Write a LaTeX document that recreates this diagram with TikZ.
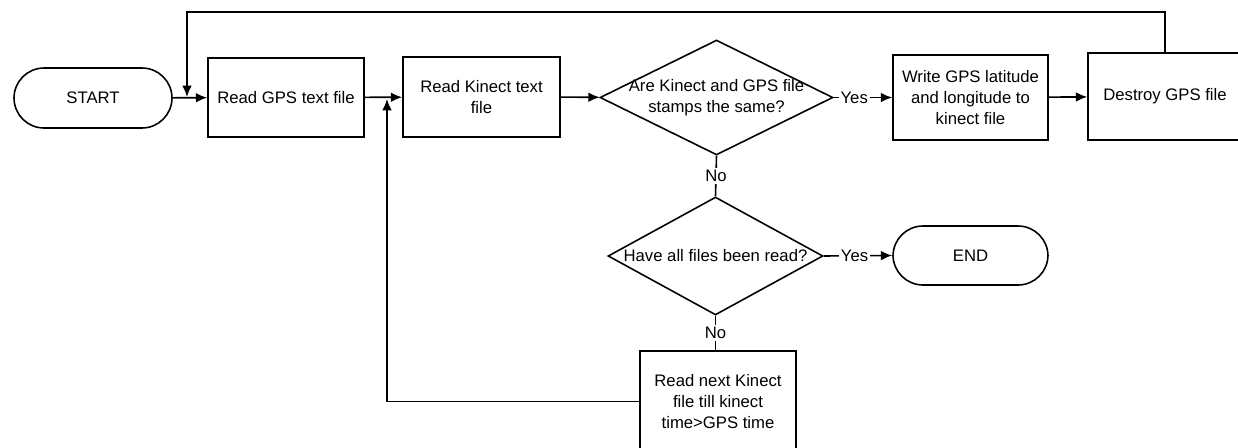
\documentclass[tikz,border=0pt]{standalone}
\usepackage{fontspec}
\setmainfont{Liberation Sans}
\usetikzlibrary{shapes.geometric,arrows.meta}
\begin{document}
\begin{tikzpicture}[x=0.02cm,y=-0.02cm,
  every node/.style={font=\fontsize{9.5}{12}\selectfont, align=center},
  box/.style={draw, line width=0.9pt, rectangle, inner sep=0pt},
  term/.style={draw, line width=0.9pt, rectangle, rounded corners=0.6cm, inner sep=0pt},
  dia/.style={draw, line width=0.9pt, diamond, inner sep=0pt},
  con/.style={line width=0.9pt},
  arr/.style={con, -{Latex[length=6.5pt,width=5.5pt]}},
  lbl/.style={fill=white, inner sep=1pt}]
\useasboundingbox (0,0) rectangle (1238,447);
% nodes
\node[term, minimum width=3.16cm, minimum height=1.2cm] (start) at (93,98) {START};
\node[box, minimum width=3.12cm, minimum height=1.58cm] (gps) at (286,97.5) {Read GPS text file};
\node[box, minimum width=3.14cm, minimum height=1.6cm] (kin) at (481.5,97) {Read Kinect text\\file};
\node[dia, minimum width=4.66cm, minimum height=2.3cm] (d1) at (716.5,97.5) {};
\node at (d1.center) {Are Kinect and GPS file\\stamps the same?};
\node[box, minimum width=3.1cm, minimum height=1.7cm] (write) at (970.5,97.5) {Write GPS latitude\\and longitude to\\kinect file};
\node[box, minimum width=3.08cm, minimum height=1.74cm] (destroy) at (1165,96.5) {Destroy GPS file};
\node[dia, minimum width=4.3cm, minimum height=2.36cm] (d2) at (715.5,256) {};
\node at (d2.center) {Have all files been read?};
\node[term, minimum width=3.1cm, minimum height=1.18cm] (end) at (970.5,255.5) {END};
\node[box, minimum width=3.12cm, minimum height=2.02cm] (next) at (718,401.5) {Read next Kinect\\file till kinect\\time>GPS time};
% junction coordinates
\coordinate (topL) at (187,12);
\coordinate (j1) at (187,97);
\coordinate (j2) at (387,99);
% connectors
\draw[arr] (start) -- (gps);
\draw[arr] (gps) -- (kin);
\draw[arr] (kin) -- (d1);
\draw[arr] (d1.east) -- node[lbl, pos=0.35]{Yes} (write.west |- d1.east);
\draw[arr] (write) -- (destroy);
\draw[arr] (destroy.north) |- (topL) -- (j1);
\draw[con] (d1.south) -- node[lbl]{No} (d2.north);
\draw[arr] (d2.east) -- node[lbl, pos=0.45]{Yes} (end.west);
\draw[con] (d2.south) -- node[lbl]{No} (next.north -| d2.south);
\draw[arr] (next.west) -| (j2);
\end{tikzpicture}
\end{document}
